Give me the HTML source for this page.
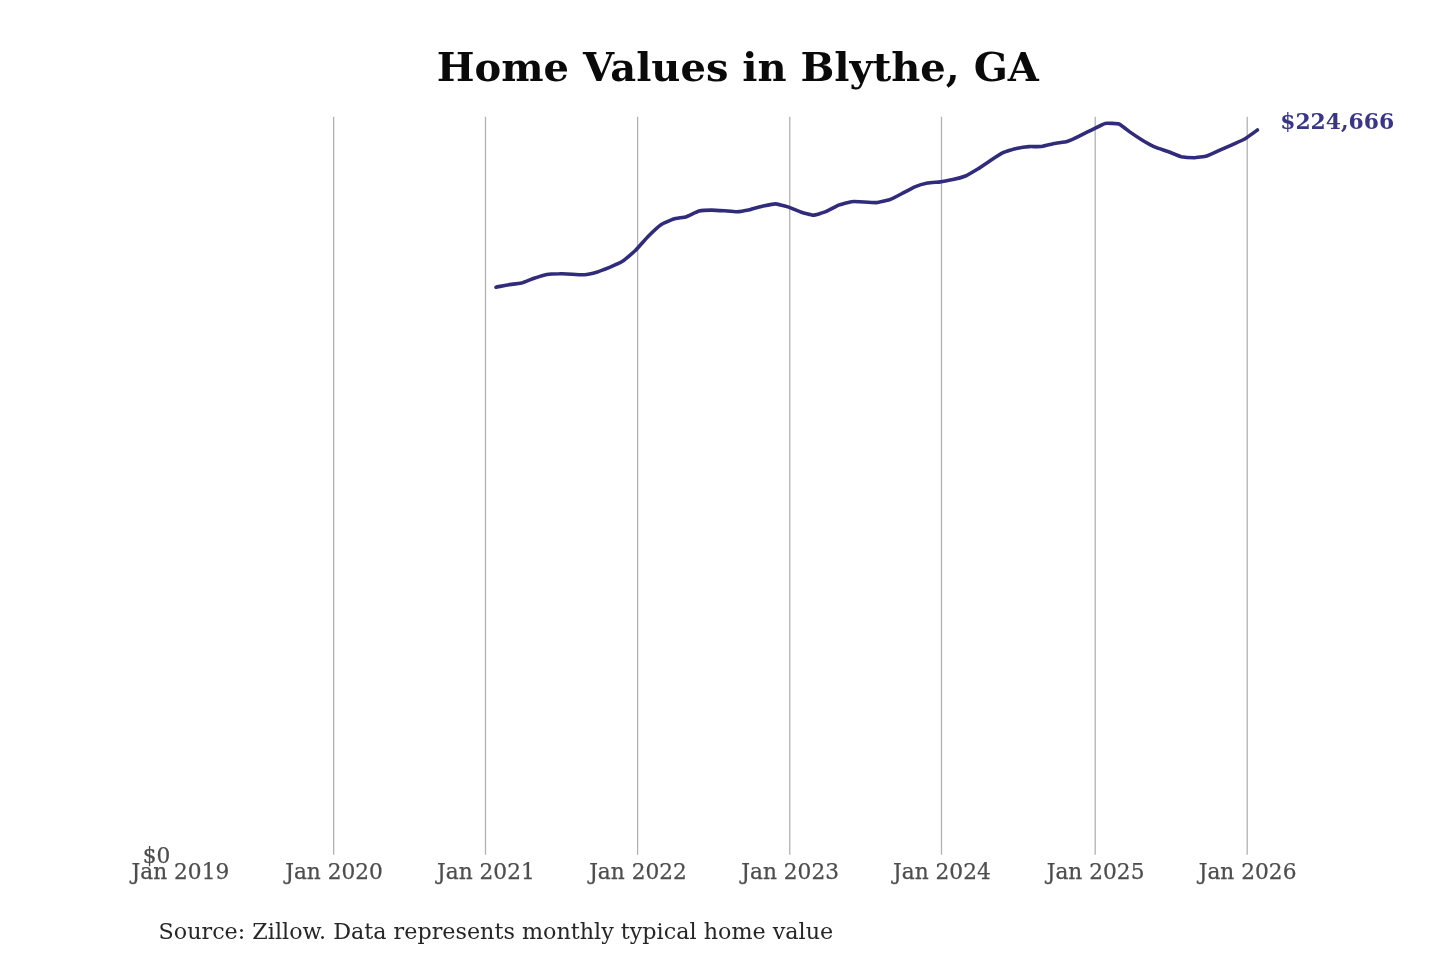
<!DOCTYPE html>
<html lang="en"><head><meta charset="utf-8"><title>Home Values in Blythe, GA</title>
<style>
html,body{margin:0;padding:0;background:#fff;}
body{width:1440px;height:960px;overflow:hidden;font-family:"DejaVu Serif","Liberation Serif",serif;}
svg{display:block;filter:blur(0.45px)}
svg text{font-family:"DejaVu Serif","Liberation Serif",serif;}
.grid line{stroke:#b2b2b2;stroke-width:1.3}
.ticks text{font-size:21.7px;fill:#4d4d4d;stroke:#4d4d4d;stroke-width:0.25}
</style></head><body>
<svg width="1440" height="960" viewBox="0 0 1440 960">
<rect width="1440" height="960" fill="#fff"/>
<text x="737.8" y="81" text-anchor="middle" font-size="40" font-weight="bold" fill="#0a0a0a">Home Values in Blythe, GA</text>
<g class="grid"><line x1="333.65" y1="116.8" x2="333.65" y2="854.7"/><line x1="485.5" y1="116.8" x2="485.5" y2="854.7"/><line x1="637.6" y1="116.8" x2="637.6" y2="854.7"/><line x1="789.75" y1="116.8" x2="789.75" y2="854.7"/><line x1="941.5" y1="116.8" x2="941.5" y2="854.7"/><line x1="1095.2" y1="116.8" x2="1095.2" y2="854.7"/><line x1="1247.2" y1="116.8" x2="1247.2" y2="854.7"/></g>
<path d="M496.0,287.2C496.7,287.1 507.2,284.9 508.7,284.7C510.2,284.5 519.9,283.5 521.4,283.1C522.9,282.7 532.6,278.7 534.1,278.2C535.6,277.7 545.3,274.7 546.8,274.4C548.2,274.1 558.0,273.8 559.5,273.8C560.9,273.7 570.7,274.1 572.1,274.2C573.6,274.3 583.3,274.8 584.8,274.7C586.3,274.6 596.0,272.3 597.5,271.9C599.0,271.5 608.7,267.7 610.2,267.1C611.7,266.5 621.4,262.1 622.9,261.1C624.4,260.1 634.1,251.8 635.6,250.3C637.1,248.8 646.8,237.7 648.3,236.2C649.8,234.7 659.5,225.7 661.0,224.7C662.5,223.7 672.2,219.5 673.7,219.0C675.1,218.5 684.9,217.2 686.4,216.7C687.8,216.2 697.6,211.5 699.0,211.1C700.5,210.7 710.2,210.1 711.7,210.1C713.2,210.1 722.9,210.7 724.4,210.8C725.9,210.9 735.6,211.9 737.1,211.8C738.6,211.7 748.3,210.0 749.8,209.7C751.3,209.4 761.0,206.6 762.5,206.2C764.0,205.9 773.7,203.9 775.2,203.9C776.7,203.9 786.4,206.4 787.9,206.9C789.4,207.4 799.1,211.5 800.6,212.0C802.0,212.5 811.8,215.2 813.2,215.2C814.7,215.2 824.5,212.3 825.9,211.7C827.4,211.1 837.1,205.8 838.6,205.2C840.1,204.6 849.8,201.9 851.3,201.7C852.8,201.5 862.5,201.9 864.0,202.0C865.5,202.1 875.2,202.7 876.7,202.6C878.2,202.5 887.9,200.3 889.4,199.8C890.9,199.3 900.6,194.3 902.1,193.5C903.6,192.7 913.3,187.4 914.8,186.8C916.3,186.2 926.0,183.4 927.5,183.1C928.9,182.8 938.7,182.1 940.2,181.9C941.6,181.7 951.4,179.8 952.8,179.5C954.3,179.2 964.0,176.6 965.5,176.0C967.0,175.4 976.7,169.6 978.2,168.7C979.7,167.8 989.4,161.2 990.9,160.2C992.4,159.2 1002.1,153.1 1003.6,152.4C1005.1,151.7 1014.8,148.7 1016.3,148.4C1017.8,148.1 1027.5,146.7 1029.0,146.6C1030.5,146.5 1040.2,146.7 1041.7,146.5C1043.2,146.3 1052.9,143.8 1054.4,143.5C1055.8,143.2 1065.6,141.8 1067.1,141.4C1068.5,141.0 1078.3,136.5 1079.7,135.8C1081.2,135.1 1090.9,130.3 1092.4,129.6C1093.9,128.9 1103.6,123.7 1105.1,123.4C1106.7,123.1 1117.5,123.5 1119.0,124.0C1120.5,124.5 1129.1,131.4 1130.5,132.4C1131.9,133.4 1141.7,139.8 1143.2,140.7C1144.7,141.6 1154.4,146.8 1155.9,147.4C1157.4,148.0 1167.1,151.3 1168.6,151.8C1170.1,152.3 1179.8,156.3 1181.3,156.7C1182.7,157.0 1192.5,157.8 1194.0,157.8C1195.4,157.8 1205.2,156.4 1206.6,156.0C1208.1,155.6 1217.8,151.1 1219.3,150.4C1220.8,149.7 1230.5,145.5 1232.0,144.8C1233.5,144.1 1243.2,139.9 1244.7,139.0C1246.2,138.1 1256.7,130.5 1257.4,130.0" fill="none" stroke="#302b7b" stroke-width="3.6" stroke-linejoin="round" stroke-linecap="round"/>
<text x="1280.2" y="128.7" font-size="21.85" font-weight="bold" fill="#393587">$224,666</text>
<g class="ticks"><text x="180.40" y="879.4" text-anchor="middle">Jan 2019</text><text x="334.05" y="879.4" text-anchor="middle">Jan 2020</text><text x="485.90" y="879.4" text-anchor="middle">Jan 2021</text><text x="638.00" y="879.4" text-anchor="middle">Jan 2022</text><text x="790.15" y="879.4" text-anchor="middle">Jan 2023</text><text x="941.90" y="879.4" text-anchor="middle">Jan 2024</text><text x="1095.60" y="879.4" text-anchor="middle">Jan 2025</text><text x="1247.60" y="879.4" text-anchor="middle">Jan 2026</text><text x="170.4" y="863" text-anchor="end" font-size="20.9">$0</text></g>
<text x="158.5" y="938.6" font-size="22.28" fill="#262626">Source: Zillow. Data represents monthly typical home value</text>
</svg>
</body></html>
